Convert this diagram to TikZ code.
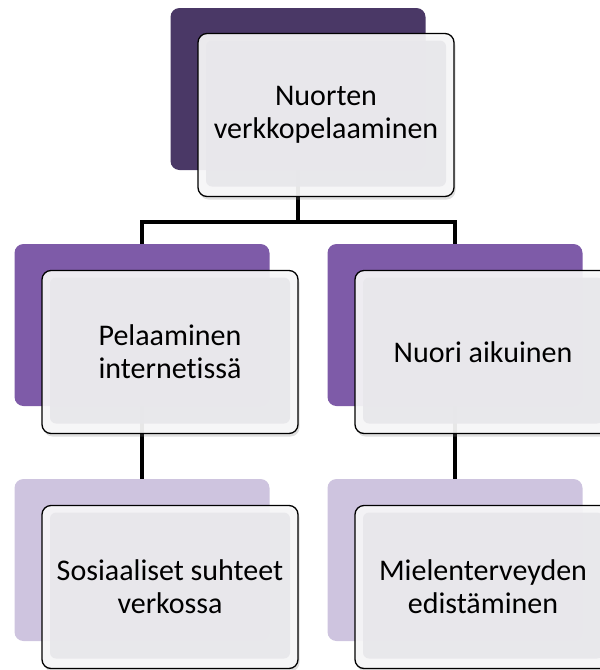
\documentclass[tikz,border=0pt]{standalone}
\usepackage{fontspec}
\setmainfont{Carlito}[Ligatures=NoCommon]
\usetikzlibrary{shadows,backgrounds}

\definecolor{darkplum}{HTML}{4A3866}
\definecolor{midplum}{HTML}{7E5BA8}
\definecolor{paleplum}{HTML}{CEC4DF}
\definecolor{boxcore}{HTML}{E8E7EB}
\definecolor{boxrim}{HTML}{F8F8F9}

\tikzset{
  backbox/.style={rectangle,rounded corners=9pt,minimum width=255pt,
    minimum height=162pt,inner sep=0pt},
  frontbox/.style={rectangle,rounded corners=9pt,draw=black,line width=1.3pt,
    fill=boxrim,fill opacity=0.92,text opacity=1,minimum width=256pt,
    minimum height=163pt,inner sep=0pt,align=center,
    font=\fontsize{30}{33}\selectfont,
    drop shadow={shadow xshift=1.5pt,shadow yshift=-3pt,opacity=0.25},
    path picture={\fill[boxcore,rounded corners=6pt]
      ([shift={(8pt,10pt)}]path picture bounding box.south west) rectangle
      ([shift={(-8pt,-7pt)}]path picture bounding box.north east);}},
  link/.style={line width=3.5pt,black}
}

\begin{document}
\begin{tikzpicture}[x=1pt,y=-1pt]
  \path[use as bounding box,clip] (0,0) rectangle (600,670);

  % back boxes
  \node[backbox,fill=darkplum] (rootback) at (298,89) {};
  \node[backbox,fill=midplum] (gameback) at (142,325) {};
  \node[backbox,fill=midplum] (adultback) at (455,325) {};
  \node[backbox,fill=paleplum] (socialback) at (142,560) {};
  \node[backbox,fill=paleplum] (healthback) at (455,560) {};

  % front boxes
  \node[frontbox] (root) at (326,115) {Nuorten\\verkkopelaaminen};
  \node[frontbox] (game) at (170,352) {Pelaaminen\\internetissä};
  \node[frontbox] (adult) at (483,352) {Nuori aikuinen};
  \node[frontbox] (social) at (170,587) {Sosiaaliset suhteet\\verkossa};
  \node[frontbox] (health) at (483,587) {Mielenterveyden\\edistäminen};

  \coordinate (split) at (298,222);

  \begin{scope}[on background layer]
    \draw[link] (rootback.south) -- (split);
    \draw[link] (gameback.north) |- (split) -| (adultback.north);
    \draw[link] (gameback.south) -- (socialback.north);
    \draw[link] (adultback.south) -- (healthback.north);
  \end{scope}
\end{tikzpicture}
\end{document}
